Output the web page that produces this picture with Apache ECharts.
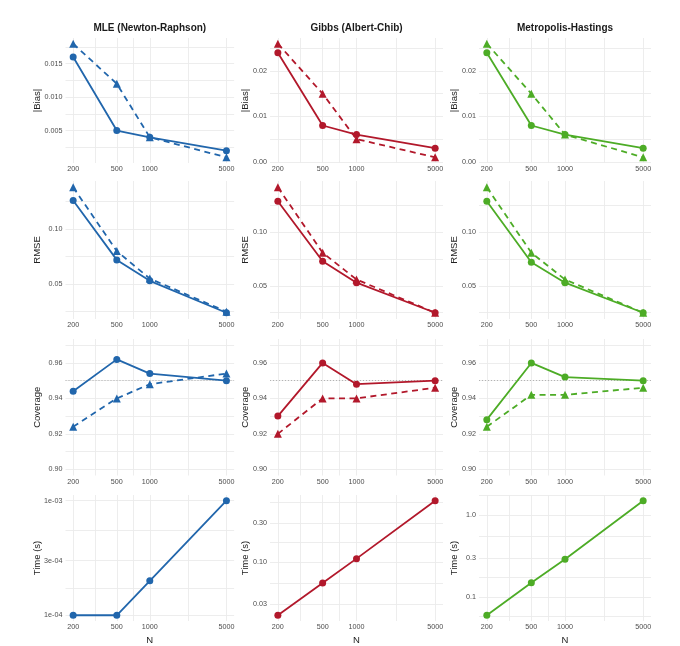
<!DOCTYPE html>
<html>
<head>
<meta charset="utf-8">
<script src="https://cdn.jsdelivr.net/npm/echarts@6/dist/echarts.min.js"></script>
<style>
  html, body { margin: 0; padding: 0; background: #fff; }
  #chart { width: 680px; height: 646px; }
</style>
</head>
<body>
<div id="chart"></div>
<script>
var sampleSizes = [200, 500, 1000, 5000];
var xTickLabels = ['200', '500', '1000', '5000'];
var xMinorTicks = [316.2, 707.1, 2236.1];

var methodNames = ['MLE (Newton-Raphson)', 'Gibbs (Albert-Chib)', 'Metropolis-Hastings'];
var methodColors = ['#2166AC', '#B2182B', '#4DAC26'];
var metricNames = ['|Bias|', 'RMSE', 'Coverage', 'Time (s)'];

// |Bias|
var mleBiasSolid = [0.016, 0.005, 0.004, 0.002];
var mleBiasDashed = [0.018, 0.012, 0.004, 0.001];
var gibbsBiasSolid = [0.024, 0.008, 0.006, 0.003];
var gibbsBiasDashed = [0.026, 0.015, 0.005, 0.001];
var mhBiasSolid = [0.024, 0.008, 0.006, 0.003];
var mhBiasDashed = [0.026, 0.015, 0.006, 0.001];

// RMSE
var mleRmseSolid = [0.126, 0.072, 0.053, 0.024];
var mleRmseDashed = [0.138, 0.080, 0.055, 0.025];
var gibbsRmseSolid = [0.129, 0.073, 0.053, 0.025];
var gibbsRmseDashed = [0.142, 0.081, 0.056, 0.025];
var mhRmseSolid = [0.129, 0.072, 0.053, 0.025];
var mhRmseDashed = [0.142, 0.081, 0.056, 0.025];

// Coverage
var mleCovSolid = [0.944, 0.962, 0.954, 0.950];
var mleCovDashed = [0.924, 0.940, 0.948, 0.954];
var gibbsCovSolid = [0.930, 0.960, 0.948, 0.950];
var gibbsCovDashed = [0.920, 0.940, 0.940, 0.946];
var mhCovSolid = [0.928, 0.960, 0.952, 0.950];
var mhCovDashed = [0.924, 0.942, 0.942, 0.946];
var nominalCoverage = 0.95;
var coverageLimits = [0.90, 0.97];

// Time (s)
var mleTime = [0.0001, 0.0001, 0.0002, 0.001];
var gibbsTime = [0.022, 0.055, 0.11, 0.57];
var mhTime = [0.06, 0.15, 0.29, 1.5];

// y ticks: [row][col]
var yTicks = [
  [[0.005, 0.010, 0.015], [0, 0.01, 0.02], [0, 0.01, 0.02]],
  [[0.05, 0.10], [0.05, 0.10], [0.05, 0.10]],
  [[0.90, 0.92, 0.94, 0.96], [0.90, 0.92, 0.94, 0.96], [0.90, 0.92, 0.94, 0.96]],
  [[0.0001, 0.0003, 0.001], [0.03, 0.10, 0.30], [0.1, 0.3, 1.0]]
];
var yTickLabels = [
  [['0.005', '0.010', '0.015'], ['0.00', '0.01', '0.02'], ['0.00', '0.01', '0.02']],
  [['0.05', '0.10'], ['0.05', '0.10'], ['0.05', '0.10']],
  [['0.90', '0.92', '0.94', '0.96'], ['0.90', '0.92', '0.94', '0.96'], ['0.90', '0.92', '0.94', '0.96']],
  [['1e-04', '3e-04', '1e-03'], ['0.03', '0.10', '0.30'], ['0.1', '0.3', '1.0']]
];
var yMinorTicks = [
  [[0.0025, 0.0075, 0.0125, 0.0175], [0.005, 0.015, 0.025], [0.005, 0.015, 0.025]],
  [[0.025, 0.075, 0.125], [0.025, 0.075, 0.125], [0.025, 0.075, 0.125]],
  [[0.91, 0.93, 0.95, 0.97], [0.91, 0.93, 0.95, 0.97], [0.91, 0.93, 0.95, 0.97]],
  [[0.000173, 0.000548], [0.0548, 0.173, 0.548], [0.0577, 0.173, 0.548, 1.73]]
];

var panelData = [
  [[mleBiasSolid, mleBiasDashed], [gibbsBiasSolid, gibbsBiasDashed], [mhBiasSolid, mhBiasDashed]],
  [[mleRmseSolid, mleRmseDashed], [gibbsRmseSolid, gibbsRmseDashed], [mhRmseSolid, mhRmseDashed]],
  [[mleCovSolid, mleCovDashed], [gibbsCovSolid, gibbsCovDashed], [mhCovSolid, mhCovDashed]],
  [[mleTime], [gibbsTime], [mhTime]]
];

// layout (px)
var colLeft = [65.5, 270, 479];
var colWidth = [168.6, 173, 172];
var colNameGap = [23, 20, 20];
var rowTop = [38, 181, 339, 495];
var rowHeight = [125, 138, 136.5, 127];

var FONT = '"Liberation Sans", Arial, sans-serif';
var GRID_COLOR = '#ebebeb';

function expandLinear(lo, hi) {
  var d = (hi - lo) * 0.05;
  return [lo - d, hi + d];
}
function expandLog(lo, hi) {
  var a = Math.log10(lo), b = Math.log10(hi), d = (b - a) * 0.05;
  return [Math.pow(10, a - d), Math.pow(10, b + d)];
}
function labelFor(ticks, labels) {
  return function (v) {
    for (var i = 0; i < ticks.length; i++) {
      if (Math.abs(v - ticks[i]) <= Math.abs(ticks[i]) * 1e-6 + 1e-12) return labels[i];
    }
    return '';
  };
}

var xLimits = expandLog(sampleSizes[0], sampleSizes[sampleSizes.length - 1]);

var grids = [], xAxes = [], yAxes = [], series = [], graphics = [];

for (var r = 0; r < 4; r++) {
  for (var c = 0; c < 3; c++) {
    var idx = grids.length;
    var lines = panelData[r][c];
    var all = [].concat.apply([], lines);
    var lo = Math.min.apply(null, all), hi = Math.max.apply(null, all);
    var isLog = r === 3;
    var yLim = isLog ? expandLog(lo, hi) : (r === 2 ? expandLinear(coverageLimits[0], coverageLimits[1]) : expandLinear(lo, hi));

    grids.push({ left: colLeft[c], top: rowTop[r], width: colWidth[c], height: rowHeight[r] });

    xAxes.push({
      gridIndex: idx,
      type: 'log',
      logBase: 10,
      min: xLimits[0],
      max: xLimits[1],
      name: r === 3 ? 'N' : '',
      nameLocation: 'middle',
      nameGap: 14,
      nameMoveOverlap: false,
      nameTextStyle: { fontFamily: FONT, fontSize: 9.5, color: '#222' },
      axisLine: { show: false },
      axisTick: { show: false, customValues: sampleSizes.concat(xMinorTicks) },
      axisLabel: {
        customValues: sampleSizes,
        formatter: labelFor(sampleSizes, xTickLabels),
        fontFamily: FONT, fontSize: 7.2, color: '#4d4d4d', margin: 3
      },
      splitLine: { show: true, lineStyle: { color: GRID_COLOR, width: 0.9 } },
      minorSplitLine: { show: false }
    });

    var ticks = yTicks[r][c];
    yAxes.push({
      gridIndex: idx,
      type: isLog ? 'log' : 'value',
      logBase: 10,
      min: yLim[0],
      max: yLim[1],
      name: metricNames[r],
      nameLocation: 'middle',
      nameGap: colNameGap[c],
      nameMoveOverlap: false,
      nameTextStyle: { fontFamily: FONT, fontSize: 9.5, color: '#222' },
      axisLine: { show: false },
      axisTick: { show: false, customValues: ticks.concat(yMinorTicks[r][c]) },
      axisLabel: {
        customValues: ticks,
        formatter: labelFor(ticks, yTickLabels[r][c]),
        fontFamily: FONT, fontSize: 7.2, color: '#4d4d4d', margin: 3
      },
      splitLine: { show: true, lineStyle: { color: GRID_COLOR, width: 0.9 } }
    });

    lines.forEach(function (vals, k) {
      var s = {
        type: 'line',
        xAxisIndex: idx,
        yAxisIndex: idx,
        data: sampleSizes.map(function (n, i) { return [n, vals[i]]; }),
        symbol: k === 0 ? 'circle' : 'triangle',
        symbolSize: k === 0 ? 7 : 8,
        itemStyle: { color: methodColors[c] },
        lineStyle: { color: methodColors[c], width: 1.8, type: k === 0 ? 'solid' : [6, 4.5] },
        z: k === 0 ? 3 : 2
      };
      if (r === 2 && k === 0) {
        s.markLine = {
          silent: true,
          symbol: 'none',
          label: { show: false },
          lineStyle: { color: '#999', width: 0.7, type: [1, 2] },
          data: [{ yAxis: nominalCoverage }],
          z: 1
        };
      }
      series.push(s);
    });

    if (r === 0) {
      graphics.push({
        type: 'text',
        x: colLeft[c] + colWidth[c] / 2,
        y: 28,
        style: {
          text: methodNames[c],
          fontFamily: FONT, fontSize: 10, fontWeight: 'bold', fill: '#1a1a1a',
          textAlign: 'center', textVerticalAlign: 'middle'
        }
      });
    }
  }
}

var chart = echarts.init(document.getElementById('chart'));
chart.setOption({
  animation: false,
  backgroundColor: '#fff',
  grid: grids,
  xAxis: xAxes,
  yAxis: yAxes,
  series: series,
  graphic: graphics
});
</script>
</body>
</html>
